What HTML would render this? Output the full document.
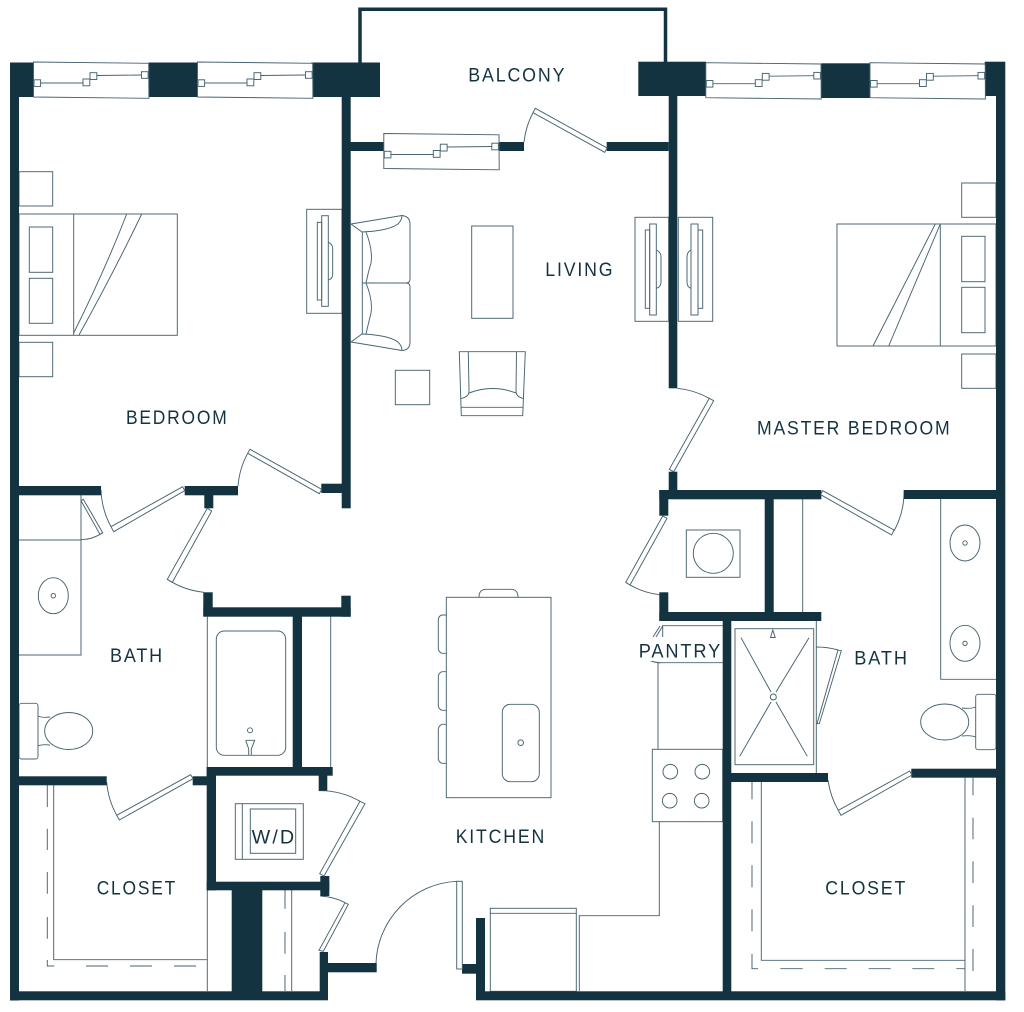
<!DOCTYPE html>
<html><head><meta charset="utf-8"><title>Floor plan</title>
<style>
html,body{margin:0;padding:0;background:#fff}
svg{display:block}
.w{fill:#143340;stroke:none}
.t{fill:none;stroke:#476370;stroke-width:.95}
.l{fill:#fff;stroke:#476370;stroke-width:.95}
text{font-family:"Liberation Sans",sans-serif;font-size:19.5px;letter-spacing:2px;fill:#143340;stroke:none}
</style></head>
<body>
<svg xmlns="http://www.w3.org/2000/svg" width="1024" height="1012" viewBox="0 0 1024 1012">
<defs>
<g id="win">
<polygon class="l" points="33.5,62 148.7,63.3 148.9,98.3 33.5,97"/>
<path class="t" d="M40.5,83 H83 M90,76.5 L93,76 M97,75.5 L141.5,75"/>
<rect class="l" x="34" y="79.8" width="6.6" height="6.6"/>
<rect class="l" x="83" y="79" width="6.8" height="6.8"/>
<rect class="l" x="90" y="72.7" width="6.8" height="6.8"/>
<rect class="l" x="141.5" y="71.7" width="6.6" height="6.6"/>
</g>
</defs>

<path d="M360,63 V9.2 H665.5 V63" fill="none" stroke="#143340" stroke-width="3.5"/>

<g class="t">
<rect x="19" y="214" width="158.3" height="121.3"/>
<path d="M73.7,214 V335.3"/>
<rect x="29.3" y="227" width="23.4" height="45.3"/>
<rect x="29.3" y="278.3" width="23.4" height="45"/>
<rect x="19" y="171.7" width="33.7" height="34.3"/>
<rect x="19" y="342.3" width="33.7" height="34.4"/>
<path d="M126.7,214 Q105,270 73.7,333"/>
<path d="M141.7,214 Q115,270 79,335"/>
<rect x="837" y="224" width="159" height="122"/>
<path d="M940.3,224 V346"/>
<rect x="961.7" y="236.3" width="23.3" height="45.4"/>
<rect x="961.7" y="287.3" width="23.3" height="45.4"/>
<rect x="961.7" y="183" width="34.3" height="34.3"/>
<rect x="961.7" y="354" width="34.3" height="34.3"/>
<path d="M935.3,224 L873,346"/>
<path d="M940.3,224 L888.7,346"/>
<rect x="306.7" y="209.3" width="35.3" height="104"/>
<rect x="317.3" y="222.3" width="4.4" height="77.7"/>
<rect x="321.7" y="215.7" width="6.6" height="90.6"/>
<path d="M328.3,242.3 Q332.7,244 332.7,249 V274 Q332.7,279 328.3,280"/>
<rect x="635" y="217.3" width="33.7" height="104"/>
<rect x="649.7" y="224" width="6.6" height="91"/>
<rect x="645.3" y="230" width="4.4" height="78.3"/>
<path d="M656.3,250 Q661,252 661,257 V282 Q661,287 656.3,288.3"/>
<rect x="678.3" y="217.3" width="34.4" height="104"/>
<rect x="691" y="224" width="7" height="91"/>
<rect x="698" y="230" width="4.7" height="78.3"/>
<path d="M691,250 Q687,252 687,257 V282 Q687,287 691,288.3"/>
<path d="M351,224 L402,215.5 Q410,216.5 410,224 V279 Q410,283 406,283 H362 M406,283 Q410,283 410,287 V342 Q410,350 402,350.5 L351,342"/>
<path d="M351,224 L362,232 Q388,231 398,224 Q402,220 402,215.5"/>
<path d="M351,342 L362,334 Q388,335 398,342 Q402,346 402,350.5"/>
<path d="M362.3,232 V334"/>
<path d="M366,232 Q373,250 371,263 Q368,273 366,283 Q373,300 371,313 Q368,325 366,334"/>
<rect x="471.7" y="226" width="41.3" height="92.3"/>
<rect x="395.3" y="370.3" width="34.4" height="34.4"/>
<path d="M459.3,351.7 H525.3 L522.7,415.7 H461.3 Z"/>
<path d="M461.3,407.3 H522.7"/>
<path d="M468.3,351.7 L469,391 Q469,397 461,398.5"/>
<path d="M516.5,351.7 L516,391 Q516,397 523.5,398.5"/>
<path d="M469,393 Q492.5,384 516,393"/>
<path d="M81,495 V655 H19 M19,540 H81"/>
<ellipse cx="53.3" cy="595.7" rx="15" ry="18"/>
<circle cx="53.3" cy="595.7" r="2.2"/>
<rect x="19" y="703.3" width="19" height="55.7" rx="2.5"/>
<ellipse cx="68.7" cy="731" rx="24" ry="18.5"/>
<path d="M38,716 Q42,718 50,717 M38,746 Q42,744 50,745"/>
<path d="M207.3,616 V767 M330.7,616 V767"/>
<rect x="216.3" y="631" width="69.4" height="124.3" rx="8"/>
<circle cx="250" cy="730.3" r="2.5"/>
<path d="M245.7,740.3 H254.7 L251.3,749 V755 M248.7,755 V749 L245.7,740.3"/>
<rect x="235.3" y="803.7" width="68" height="55.6"/>
<path d="M242.3,803.7 V859.3"/>
<rect x="250.3" y="809" width="45.4" height="44.3"/>
<path d="M53.7,785 V959.7 H207.3 M207.3,890 V991"/>
<path d="M47.3,785 V807 M47.3,828.7 V850 M47.3,872 V893.7 M47.3,917 V938.7 M47.3,960 V966 H54.3 M86,966 H108 M130,966 H152 M174,966 H196"/>
<path d="M291.7,890 V991 M285,890 V908.7 M285,932 V953.7 M285,975 V991"/>
<rect x="686.3" y="530" width="53.7" height="47.3"/>
<circle cx="713.3" cy="553.3" r="20"/>
<path d="M802.7,499 V612"/>
<path d="M940.7,499 V679.3 H996"/>
<ellipse cx="965" cy="543" rx="15" ry="18"/>
<circle cx="965" cy="543" r="2.2"/>
<ellipse cx="965" cy="643.3" rx="15" ry="18"/>
<circle cx="965" cy="643.3" r="2.2"/>
<rect x="975.7" y="694.3" width="20.3" height="55.4" rx="2.5"/>
<ellipse cx="944.7" cy="722" rx="24" ry="18"/>
<path d="M975.7,707 Q971,709 962,708 M975.7,737 Q971,735 962,736"/>
<rect x="735" y="628.7" width="78.7" height="136"/>
<path d="M816.3,621 V773"/>
<path d="M741,637.7 L771,692 M809,637.7 L776,692 M739.7,756.3 L771,702 M807.3,756.3 L776,702"/>
<circle cx="773.3" cy="697" r="3"/>
<path d="M772.8,630 L770.5,637.5 H775.2 Z"/>
<path d="M662,625.7 H722.7 M662,662.7 H722.7 M658,662.7 V749.3 M662.7,625.7 V637 M656,637 L662.7,626 M653,637 L660,626 M650,660.5 Q656,663 662,662.7"/>
<rect x="652.3" y="749.3" width="70.4" height="72.4"/>
<circle cx="670.3" cy="771.7" r="7.3"/>
<circle cx="702.3" cy="771.7" r="7.3"/>
<circle cx="669.7" cy="800.7" r="7.3"/>
<circle cx="701.7" cy="800.7" r="7.3"/>
<path d="M659.3,821.7 V915.7 H579.3 V991"/>
<rect x="490.3" y="908.3" width="86" height="83"/>
<path d="M490.3,913.3 H576.3"/>
<rect x="446.3" y="597.3" width="104.7" height="200.4"/>
<path d="M446.3,615 H442 Q438.3,616 438.3,620 V648 Q438.3,652 442,653.3 H446.3"/>
<path d="M446.3,671.7 H442 Q438.3,673 438.3,677 V705 Q438.3,709 442,710.3 H446.3"/>
<path d="M446.3,724.3 H442 Q438.3,726 438.3,730 V758 Q438.3,762 442,763.3 H446.3"/>
<path d="M479,597.3 Q479,589.3 486,589.3 H511 Q518,589.3 518,597.3"/>
<rect x="502.3" y="704.3" width="37" height="77.4" rx="8"/>
<circle cx="520.7" cy="742.7" r="2.8"/>
<path d="M761.3,782 V960.3 H965 M965,777.7 V991"/>
<path d="M752,782 V799.3 M752,821.3 V843.3 M752,865.3 V887.3 M752,909.3 V931.3 M752,953.7 V968.7 H758 M780.3,968.7 H802.7 M824.7,968.7 H846.7 M868.7,968.7 H890.7 M912.3,968.7 H934.3 M956.3,968.7 H965"/>
<path d="M973,777.7 V795.3 M973,817.7 V839.3 M973,861.3 V883 M973,905.3 V927 M973,949 V971"/>
<path d="M524,142 A82,82 0 0 1 533,112.7"/>
<path d="M238,486 A82,82 0 0 1 247.7,453.3"/>
<path d="M101,490 A83,83 0 0 0 111,526.7"/>
<path d="M167.3,579.3 A82,82 0 0 0 204,592.3"/>
<path d="M81,539.7 Q93,539.5 102.7,532.7"/>
<path d="M677.3,388.3 A82,82 0 0 1 709.3,398.3"/>
<path d="M625.7,582.3 A78,78 0 0 0 659.3,594.7"/>
<path d="M904,490 A82,82 0 0 1 894,531"/>
<path d="M816.3,647 Q828,647 838,650"/>
<path d="M318.7,790.7 A80,80 0 0 1 360,801.3"/>
<path d="M320.3,896 Q335,897 345,902.7"/>
<path d="M376,963 A85,85 0 0 1 457,881.3"/>
<path d="M106.7,782 A83,83 0 0 0 116.7,815.3"/>
<path d="M828,780 A83,83 0 0 0 838.3,810.3"/>
</g>

<g class="w">
<rect x="10" y="62.5" width="9" height="938"/>
<rect x="10" y="62.5" width="23.5" height="34.5"/>
<rect x="148.7" y="62.5" width="48.6" height="34.5"/>
<rect x="311" y="62.5" width="69" height="34.5"/>
<rect x="341.7" y="97" width="9" height="411.3"/>
<rect x="350" y="142" width="34" height="9"/>
<rect x="499.5" y="142" width="24.5" height="9"/>
<rect x="606.7" y="142" width="62" height="9"/>
<rect x="668.7" y="96" width="8.6" height="292.3"/>
<rect x="638.3" y="61.7" width="67.7" height="34.3"/>
<rect x="821.3" y="63.3" width="48.7" height="34.7"/>
<rect x="984.7" y="61.7" width="20.6" height="34.3"/>
<rect x="996" y="96" width="9.3" height="904.3"/>
<rect x="10" y="991.3" width="318" height="9"/>
<rect x="476" y="991.3" width="529.3" height="9"/>
<rect x="476" y="918" width="9" height="82"/>
<rect x="19" y="486" width="82" height="9.3"/>
<rect x="184.7" y="486" width="53.3" height="9.3"/>
<rect x="204.3" y="495" width="9" height="13.3"/>
<rect x="321.3" y="483.7" width="21" height="9.3"/>
<rect x="203.3" y="607.3" width="147.4" height="9.4"/>
<rect x="203.3" y="592.3" width="9.4" height="24"/>
<rect x="341.3" y="595.7" width="9.4" height="21"/>
<rect x="292.7" y="616" width="9.3" height="151"/>
<rect x="206.7" y="767" width="126" height="8.7"/>
<rect x="206.7" y="767" width="9.3" height="123.3"/>
<rect x="318.7" y="775" width="8.6" height="15.7"/>
<rect x="206.7" y="881.7" width="122.6" height="8.6"/>
<rect x="320.3" y="876" width="9" height="20"/>
<rect x="231.7" y="890" width="30.6" height="110"/>
<rect x="319.7" y="952" width="8.3" height="48"/>
<rect x="328" y="963" width="48.7" height="9.3"/>
<rect x="19" y="776.3" width="87.7" height="9"/>
<rect x="192.7" y="776.3" width="14.3" height="9"/>
<rect x="462" y="964" width="14" height="9.7"/>
<rect x="659.3" y="490" width="162" height="9.3"/>
<rect x="668.7" y="471.7" width="8.6" height="19"/>
<rect x="659.3" y="490" width="9" height="25.7"/>
<rect x="904" y="490" width="92" height="9"/>
<rect x="764.7" y="499" width="9" height="121.7"/>
<rect x="659.3" y="592.3" width="9" height="28.7"/>
<rect x="659.3" y="612" width="162" height="9"/>
<rect x="722.7" y="621" width="8.6" height="379"/>
<rect x="731" y="773" width="97" height="9"/>
<rect x="911.3" y="768.7" width="85" height="9"/>
</g>

<use href="#win"/>
<use href="#win" x="164"/>
<use href="#win" x="350.3" y="71.5"/>
<use href="#win" x="672.3" y="0.7"/>
<use href="#win" x="836.5" y="0.7"/>

<g class="l">
<polygon points="535.3,108.3 533,112.7 604.7,152.3 607,148"/>
<polygon points="250,449.3 247.7,453.3 319.3,493.7 321.7,489.3"/>
<polygon points="182.7,486.7 184.7,490.7 113.7,531.7 111,526.7"/>
<polygon points="207.3,508.3 211.7,511 172.3,582.3 167.3,579.3"/>
<polygon points="83.3,499.3 81,500.7 100,534.3 102.7,532.7"/>
<polygon points="713.7,400.7 709.3,398.3 669.3,469.3 673.7,471.7"/>
<polygon points="667,518.3 662.7,516 625.7,582.3 630,585"/>
<polygon points="822.7,490.7 820.7,494.7 891.7,535 894,530"/>
<polygon points="841.3,650.7 838,650 817,723.7 819.3,723.7"/>
<polygon points="360,801.3 365,803.7 324,876 319.7,873.7"/>
<polygon points="345,902.7 348.3,904.3 323.3,951.3 319,950.3"/>
<rect x="456.7" y="881.3" width="5.6" height="87.7"/>
<polygon points="190.7,774.7 193,778.7 119.3,820 116.7,815.3"/>
<polygon points="909.7,771 912,775 841,815.3 838.3,810.3"/>
</g>

<rect x="638" y="640" width="84" height="21" fill="#fff"/>
<text x="468.3" y="81.3" textLength="98" lengthAdjust="spacingAndGlyphs">BALCONY</text>
<text x="545.3" y="276" textLength="69" lengthAdjust="spacingAndGlyphs">LIVING</text>
<text x="126" y="424" textLength="102.5" lengthAdjust="spacingAndGlyphs">BEDROOM</text>
<text x="757" y="434.7" textLength="194.5" lengthAdjust="spacingAndGlyphs">MASTER BEDROOM</text>
<text x="110" y="662" textLength="54" lengthAdjust="spacingAndGlyphs">BATH</text>
<text x="638.7" y="657.3" textLength="83.4" lengthAdjust="spacingAndGlyphs">PANTRY</text>
<text x="854.3" y="664.7" textLength="54.5" lengthAdjust="spacingAndGlyphs">BATH</text>
<text x="455.7" y="843" textLength="90.4" lengthAdjust="spacingAndGlyphs">KITCHEN</text>
<text x="96.7" y="894.7" textLength="80.4" lengthAdjust="spacingAndGlyphs">CLOSET</text>
<text x="825.3" y="894.7" textLength="81.8" lengthAdjust="spacingAndGlyphs">CLOSET</text>
<text x="251.7" y="843.7" textLength="44.4" lengthAdjust="spacingAndGlyphs">W/D</text>
</svg>
</body></html>
